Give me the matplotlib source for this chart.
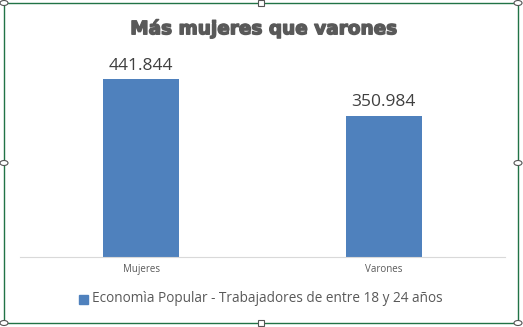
import matplotlib
matplotlib.use("Agg")
import matplotlib.pyplot as plt
from matplotlib.patches import Rectangle, Circle
import matplotlib.patheffects as pe

categories = ["Mujeres", "Varones"]
values = [441844, 350984]
labels = ["441.844", "350.984"]
series_name = "Economìa Popular - Trabajadores de entre 18 y 24 años"
title = "Más mujeres que varones"

W, H = 523, 327
fig = plt.figure(figsize=(W/100, H/100), dpi=100)
fig.patch.set_facecolor("white")

ax = fig.add_axes([20/W, (H-257)/H, 485/W, 201/H])
x = list(range(len(categories)))
bars = ax.bar(x, values, width=0.315, color="#4F81BD")
ax.set_xlim(-0.5, len(categories)-0.5)
ax.set_ylim(0, 500000)
for s in ["top", "right", "left"]:
    ax.spines[s].set_visible(False)
ax.spines["bottom"].set_color("#D9D9D9")
ax.set_yticks([])
ax.set_xticks(x)
ax.set_xticklabels(categories, fontsize=7, color="#595959", family="Open Sans")
ax.tick_params(axis="x", length=0, pad=5)
for b, l in zip(bars, labels):
    ax.annotate(l, (b.get_x()+b.get_width()/2, b.get_height()), xytext=(0, 4),
                textcoords="offset points", ha="center", va="bottom",
                fontsize=12.5, color="#404040", family="Open Sans")

fig.text(264/W, 1-29/H, title, ha="center", va="center", fontsize=13.3,
         fontweight="heavy", color="#595959", family="DejaVu Sans",
         path_effects=[pe.withStroke(linewidth=1.0, foreground="#595959")])

# legend
fig.patches.append(Rectangle((79/W, 1-304/H), 9/W, 9/H, transform=fig.transFigure,
                             color="#4F81BD", figure=fig))
fig.text(92/W, 1-299/H, series_name, ha="left", va="center", fontsize=9.8,
         color="#595959", family="Open Sans")

# chart frame
fig.patches.append(Rectangle((4/W, 4/H), 514/W, 320/H, transform=fig.transFigure,
                             fill=False, edgecolor="#217346", lw=1, figure=fig))
for (px, py) in [(4, 3), (518, 3), (4, 323), (518, 323), (4, 163), (518, 163)]:
    fig.patches.append(Circle((px/W, 1-py/H), 4/W, transform=fig.transFigure,
                              facecolor="white", edgecolor="#555555", lw=0.8, figure=fig))
for (px, py) in [(261, 3), (261, 323)]:
    fig.patches.append(Rectangle(((px-3)/W, 1-(py+3)/H), 6/W, 6/H, transform=fig.transFigure,
                                 facecolor="white", edgecolor="#555555", lw=0.8, figure=fig))

fig.savefig("out.png", dpi=100)
